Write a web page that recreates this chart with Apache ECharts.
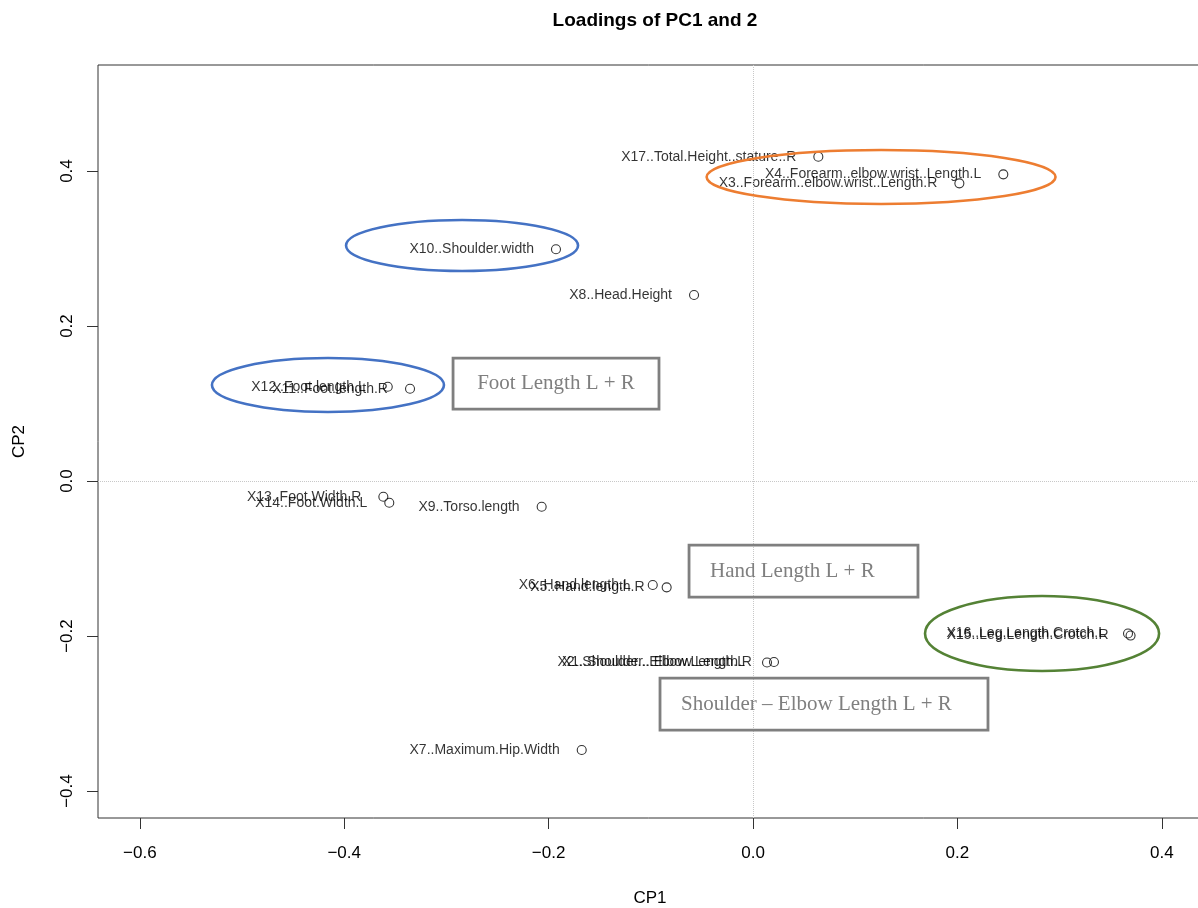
<!DOCTYPE html>
<html>
<head>
<meta charset="utf-8">
<script src="https://cdn.jsdelivr.net/npm/echarts@6/dist/echarts.min.js"></script>
<style>
  html, body { margin: 0; padding: 0; background: #ffffff; }
  #chart { width: 1198px; height: 908px; }
</style>
</head>
<body>
<div id="chart"></div>
<script>
// Variable names and their loadings on the first two principal components
const variables = [
  'X17..Total.Height..stature..R',
  'X4..Forearm..elbow.wrist..Length.L',
  'X3..Forearm..elbow.wrist..Length.R',
  'X10..Shoulder.width',
  'X8..Head.Height',
  'X12..Foot.length.L',
  'X11..Foot.length.R',
  'X13..Foot.Width.R',
  'X14..Foot.Width.L',
  'X9..Torso.length',
  'X6..Hand.length.L',
  'X5..Hand.length.R',
  'X2..Shoulder...Elbow.Length.L',
  'X1..Shoulder...Elbow.Length.R',
  'X16..Leg.Length.Crotch.L',
  'X15..Leg.Length.Crotch.R',
  'X7..Maximum.Hip.Width'
];
const loadingsPC1 = [0.0639, 0.2449, 0.2019, -0.1928, -0.0577, -0.3574, -0.3356, -0.3617, -0.3559, -0.2068, -0.0981, -0.0845, 0.0137, 0.0205, 0.3669, 0.3694, -0.1676];
const loadingsPC2 = [0.4185, 0.3957, 0.3841, 0.2990, 0.2400, 0.1217, 0.1191, -0.0203, -0.0280, -0.0332, -0.1342, -0.1372, -0.2342, -0.2335, -0.1968, -0.1994, -0.3471];

const xTicks = [-0.6, -0.4, -0.2, 0.0, 0.2, 0.4];
const yTicks = [-0.4, -0.2, 0.0, 0.2, 0.4];

// Highlight ellipses (centre and radii in loading units)
const ellipseCx = [0.1253, -0.2847, -0.4159, 0.2828];
const ellipseCy = [0.3923, 0.3039, 0.1239, -0.1968];
const ellipseRx = [0.1707, 0.1135, 0.1135, 0.1145];
const ellipseRy = [0.0348, 0.0329, 0.0348, 0.0484];
const ellipseColors = ['#ED7D31', '#4472C4', '#4472C4', '#548235'];

// Caption boxes (corners in loading units)
const boxText = ['Foot Length L + R', 'Hand Length L + R', 'Shoulder \u2013 Elbow Length L + R'];
const boxX0 = [-0.2935, -0.0626, -0.0910];
const boxX1 = [-0.0920, 0.1614, 0.2299];
const boxY0 = [0.1587, -0.0826, -0.2542];
const boxY1 = [0.0929, -0.1497, -0.3213];
const boxAlign = ['center', 'left', 'left'];

const points = variables.map((name, i) => ({ name: name, value: [loadingsPC1[i], loadingsPC2[i]] }));

const fmt = v => (v < 0 ? '\u2212' : '') + Math.abs(v).toFixed(1);

const chart = echarts.init(document.getElementById('chart'));
const font = '"Liberation Sans", Arial, sans-serif';

chart.setOption({
  animation: false,
  backgroundColor: '#ffffff',
  title: {
    text: 'Loadings of PC1 and 2',
    left: 650, top: 6, textAlign: 'center',
    textStyle: { fontFamily: font, fontWeight: 'bold', fontSize: 19, color: '#000' }
  },
  grid: {
    left: 98, top: 65, width: 1104, height: 753,
    outerBoundsMode: 'none', containLabel: false,
    show: true, borderColor: '#333', borderWidth: 1, backgroundColor: 'transparent'
  },
  xAxis: {
    type: 'value', min: -0.6409, max: 0.4393,
    name: 'CP1', nameLocation: 'middle', nameGap: 72,
    nameTextStyle: { fontFamily: font, fontSize: 17, color: '#000' },
    axisLine: { show: false, onZero: false },
    splitLine: { show: false },
    axisTick: { show: true, inside: false, length: 11, customValues: xTicks, lineStyle: { color: '#333' } },
    axisLabel: { customValues: xTicks, formatter: fmt, margin: 27, fontFamily: font, fontSize: 17, color: '#000' }
  },
  yAxis: {
    type: 'value', min: -0.4348, max: 0.5368,
    name: 'CP2', nameLocation: 'middle', nameGap: 70, nameRotate: 90,
    nameTextStyle: { fontFamily: font, fontSize: 17, color: '#000' },
    axisLine: { show: false, onZero: false },
    splitLine: { show: false },
    axisTick: { show: true, inside: false, length: 11, customValues: yTicks, lineStyle: { color: '#333' } },
    axisLabel: { customValues: yTicks, formatter: fmt, rotate: 90, margin: 22, fontFamily: font, fontSize: 17, color: '#000' }
  },
  series: [{
    type: 'scatter',
    data: points,
    symbol: 'circle',
    symbolSize: 9,
    itemStyle: { color: 'rgba(255,255,255,0)', borderColor: '#000', borderWidth: 1.1 },
    label: {
      show: true, position: 'left', distance: 17,
      formatter: p => p.name,
      fontFamily: font, fontSize: 14, color: '#000'
    },
    emphasis: { disabled: true },
    markLine: {
      silent: true, symbol: 'none', label: { show: false },
      lineStyle: { type: 'dotted', color: '#c8c8c8', width: 1 },
      data: [{ xAxis: 0 }, { yAxis: 0 }]
    },
    z: 3
  }]
});

// Annotation overlays placed from loading coordinates
function drawAnnotations() {
  const px = (x, y) => chart.convertToPixel({ gridIndex: 0 }, [x, y]);
  const elements = [];
  ellipseCx.forEach((cx, i) => {
    const c = px(cx, ellipseCy[i]);
    const e = px(cx + ellipseRx[i], ellipseCy[i] + ellipseRy[i]);
    elements.push({
      type: 'ellipse', z: 10,
      shape: { cx: c[0], cy: c[1], rx: Math.abs(e[0] - c[0]), ry: Math.abs(e[1] - c[1]) },
      style: { fill: null, stroke: ellipseColors[i], lineWidth: 2.6 }
    });
  });
  boxText.forEach((t, i) => {
    const a = px(boxX0[i], boxY0[i]);
    const b = px(boxX1[i], boxY1[i]);
    const w = b[0] - a[0], h = b[1] - a[1];
    elements.push({
      type: 'rect', z: 10,
      shape: { x: a[0], y: a[1], width: w, height: h },
      style: { fill: null, stroke: '#7f7f7f', lineWidth: 2.8 }
    });
    elements.push({
      type: 'text', z: 11,
      x: boxAlign[i] === 'center' ? a[0] + w / 2 : a[0] + 21,
      y: a[1] + h / 2,
      style: {
        text: t, fill: '#7f7f7f', fontSize: 21,
        fontFamily: '"Liberation Serif", "Times New Roman", serif',
        align: boxAlign[i], verticalAlign: 'middle'
      }
    });
  });
  chart.setOption({ graphic: { elements: elements } });
}
drawAnnotations();
</script>
</body>
</html>
